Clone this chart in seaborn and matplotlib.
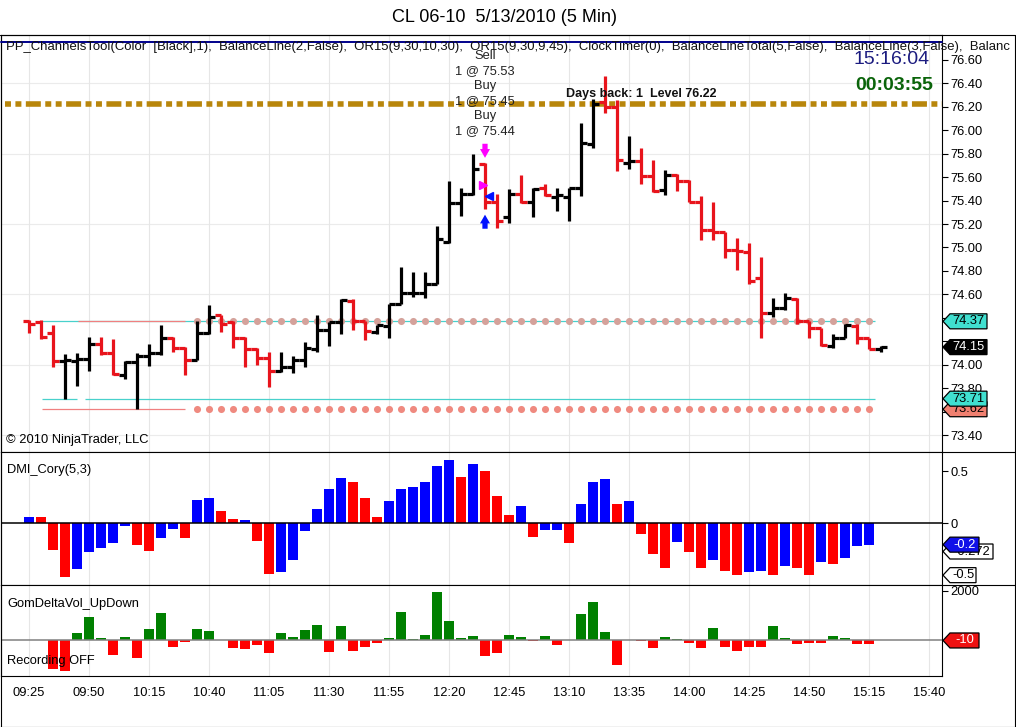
import numpy as np
import pandas as pd
import matplotlib
matplotlib.use("Agg")
import matplotlib.pyplot as plt
import matplotlib.transforms as mtrans
from matplotlib.patches import Polygon
from matplotlib.lines import Line2D
import seaborn as sns

# ---------------- data ----------------
time_labels = ["09:25", "09:50", "10:15", "10:40", "11:05", "11:30", "11:55", "12:20",
               "12:45", "13:10", "13:35", "14:00", "14:25", "14:50", "15:15", "15:40"]

opens = [74.37, 74.36, 74.27, 74.03, 74.03, 74.05, 74.18, 74.10, 73.91, 74.02,
         74.07, 74.10, 74.23, 74.14, 74.04, 74.27, 74.42, 74.36, 74.23, 74.13,
         74.06, 73.95, 73.98, 74.04, 74.13, 74.30, 74.36, 74.54, 74.37, 74.28,
         74.33, 74.52, 74.61, 74.61, 74.69, 75.05, 75.38, 75.46, 75.71, 75.39,
         75.26, 75.46, 75.39, 75.51, 75.43, 75.43, 75.51, 75.88, 76.24, 76.20,
         75.72, 75.74, 75.61, 75.49, 75.62, 75.57, 75.39, 75.15, 75.13, 74.98,
         74.96, 74.74, 74.44, 74.48, 74.56, 74.37, 74.31, 74.16, 74.23, 74.33,
         74.23, 74.13]
highs = [74.38, 74.38, 74.34, 74.09, 74.10, 74.24, 74.24, 74.22, 74.03, 74.10,
         74.18, 74.34, 74.24, 74.15, 74.37, 74.51, 74.42, 74.37, 74.24, 74.14,
         74.11, 74.11, 74.07, 74.19, 74.42, 74.36, 74.56, 74.56, 74.37, 74.34,
         74.52, 74.83, 74.79, 74.79, 75.18, 75.57, 75.51, 75.80, 75.72, 75.46,
         75.50, 75.62, 75.51, 75.54, 75.51, 75.51, 76.06, 76.27, 76.46, 76.26,
         75.95, 75.85, 75.75, 75.66, 75.63, 75.58, 75.44, 75.39, 75.13, 75.08,
         75.04, 74.92, 74.57, 74.61, 74.57, 74.37, 74.31, 74.26, 74.35, 74.35,
         74.23, 74.16]
lows = [74.27, 74.22, 73.98, 73.71, 73.82, 73.95, 74.08, 73.91, 73.88, 73.62,
        73.99, 74.08, 74.11, 73.91, 74.04, 74.26, 74.28, 74.14, 73.98, 74.00,
        73.81, 73.94, 73.93, 73.98, 74.11, 74.16, 74.26, 74.30, 74.21, 74.26,
        74.23, 74.52, 74.58, 74.57, 74.69, 75.04, 75.27, 75.45, 75.33, 75.17,
        75.21, 75.38, 75.26, 75.44, 75.31, 75.23, 75.44, 75.85, 76.15, 75.65,
        75.67, 75.54, 75.47, 75.45, 75.48, 75.39, 75.06, 75.06, 74.91, 74.81,
        74.69, 74.23, 74.41, 74.47, 74.35, 74.23, 74.16, 74.14, 74.23, 74.18,
        74.13, 74.11]
closes = [74.35, 74.24, 74.03, 74.04, 74.05, 74.18, 74.10, 73.92, 74.02, 74.07,
          74.10, 74.23, 74.14, 74.04, 74.27, 74.41, 74.35, 74.23, 74.13, 74.06,
          73.95, 73.98, 74.04, 74.14, 74.30, 74.36, 74.55, 74.37, 74.29, 74.34,
          74.52, 74.61, 74.61, 74.69, 75.07, 75.38, 75.46, 75.67, 75.39, 75.23,
          75.46, 75.39, 75.50, 75.45, 75.45, 75.51, 75.89, 76.22, 76.20, 75.75,
          75.74, 75.61, 75.48, 75.62, 75.57, 75.39, 75.15, 75.13, 74.98, 74.97,
          74.71, 74.44, 74.48, 74.57, 74.37, 74.31, 74.17, 74.23, 74.34, 74.23,
          74.13, 74.15]

dmi_values = [0.065, 0.065, -0.258, -0.516, -0.445, -0.281, -0.242, -0.194, -0.029, -0.213,
              -0.271, -0.145, -0.058, -0.145, 0.229, 0.248, 0.123, 0.039, 0.035, -0.171,
              -0.484, -0.465, -0.355, -0.077, 0.142, 0.335, 0.432, 0.394, 0.239, 0.065,
              0.210, 0.335, 0.345, 0.394, 0.548, 0.606, 0.450, 0.574, 0.506, 0.265,
              0.081, 0.168, -0.129, -0.065, -0.065, -0.187, 0.187, 0.400, 0.429, 0.187,
              0.216, -0.103, -0.297, -0.429, -0.177, -0.274, -0.429, -0.355, -0.458, -0.500,
              -0.468, -0.458, -0.500, -0.410, -0.429, -0.500, -0.371, -0.390, -0.332, -0.216,
              -0.206]
dmi_colors = list("brrrbbbbbrrbbrbbrrbrrbbbbbbrrrbbbbbbrbrrrbrbbrbbbrbrrrbrrbrrbbrbrrbrbbb")

vol_values = [0, 0, -1156, -1265, 299, 952, 95, -585, 136, -707,
              462, 1115, -272, -68, 462, 381, 0, -313, -340, -177,
              -517, 299, 136, 422, 626, -476, 585, -435, -272, -109,
              95, 1156, 54, 218, 1972, 789, 95, 177, -639, -517,
              218, 136, -27, 177, -190, 0, 1074, 1564, 340, -993,
              0, -27, -313, 136, 54, -109, -313, 503, -272, -435,
              -272, -272, 585, 95, -150, -109, -109, 177, 95, -150,
              -150, -10]

or_high = 74.37
or_low_a = 73.71
or_low_b = 73.62
prior_level = 76.22
last_price = 74.15
trade_bar = 38
trade_actions = ["Sell", "Buy", "Buy"]
trade_prices = [75.53, 75.45, 75.44]

header = ("PP_ChannelsTool(Color  [Black],1),  BalanceLine(2,False),  OR15(9,30,10,30),  "
          "OR15(9,30,9,45),  ClockTimer(0),  BalanceLineTotal(5,False),  BalanceLine(3,False),  Balanc")

# ---------------- style ----------------
sns.set_theme(style="white", rc={"axes.edgecolor": "black", "xtick.color": "black",
                                 "ytick.color": "black", "text.color": "black",
                                 "axes.labelcolor": "black"})
plt.rcParams['font.family'] = ['Liberation Sans', 'DejaVu Sans']
plt.rcParams['lines.scale_dashes'] = False

RED = "#e8141c"
FS = 9.3
W, H = 1016, 727
fig = plt.figure(figsize=(W / 100, H / 100), dpi=100, facecolor="white")


def fx(px):
    return px / W


def fy(py):
    return 1 - py / H


LEFT, RIGHT = 1, 942
X0, XSTEP = 29, 12


def add_panel(top, bottom):
    return fig.add_axes([fx(LEFT), fy(bottom), fx(RIGHT) - fx(LEFT), fy(top) - fy(bottom)])


ax_p = add_panel(35, 452)
ax_d = add_panel(452, 584.5)
ax_v = add_panel(584.5, 675.5)

# ---------------- price panel ----------------
df = pd.DataFrame({"bar": range(len(opens)), "open": opens, "high": highs,
                   "low": lows, "close": closes})
df["color"] = np.where(df["close"] < df["open"], RED, "black")

for lvl in [73.4, 74.0, 74.6, 75.2, 75.8, 76.4]:
    ax_p.axhline(lvl, color="#ebebeb", lw=0.8, zorder=0)

# opening range lines
ax_p.hlines(or_high, 1.08, 70.5, color="#48d1cc", lw=0.9, zorder=1)
ax_p.hlines(or_high, 4.1, 13.0, color="#f08080", lw=0.9, zorder=1)
ax_p.hlines(or_low_a, 1.08, 4.0, color="#48d1cc", lw=0.9, zorder=1)
ax_p.hlines(or_low_a, 4.7, 70.5, color="#48d1cc", lw=0.9, zorder=1)
ax_p.hlines(or_low_b, 1.08, 13.0, color="#f08080", lw=0.9, zorder=1)
dots = pd.DataFrame({"bar": list(range(14, 71))})
sns.scatterplot(x=dots["bar"], y=[or_high] * len(dots), color="#d4a29b", s=26,
                linewidth=0, ax=ax_p, zorder=2)
sns.scatterplot(x=dots["bar"], y=[or_low_b] * len(dots), color="#ef8a80", s=26,
                linewidth=0, ax=ax_p, zorder=2)

# prior-day level line
ax_p.axhline(prior_level, xmin=0.004, color="#b8860b", lw=4.0,
             linestyle=(0, (4.3, 3.2, 4.3, 3.2, 10.8, 3.2)), dash_capstyle="butt", zorder=2)

# OHLC bars
lw_bar = 2.3
ax_p.vlines(df["bar"], df["low"], df["high"], colors=df["color"], lw=lw_bar, zorder=3)
ax_p.hlines(df["open"], df["bar"] - 0.47, df["bar"], colors=df["color"], lw=lw_bar, zorder=3)
ax_p.hlines(df["close"], df["bar"], df["bar"] + 0.47, colors=df["color"], lw=lw_bar, zorder=3)

# trade markers
arrow_kw = dict(arrowstyle="simple,head_length=0.7,head_width=0.8,tail_width=0.42",
                shrinkA=0, shrinkB=0, lw=0, mutation_scale=9)
ax_p.annotate("", xy=(trade_bar, 75.765), xytext=(trade_bar, 75.885),
              arrowprops=dict(color="#ff00ff", **arrow_kw), zorder=5)
ax_p.annotate("", xy=(trade_bar, 75.28), xytext=(trade_bar, 75.16),
              arrowprops=dict(color="#0010ff", **arrow_kw), zorder=5)
ax_p.plot([trade_bar - 0.2], [trade_prices[0]], marker=">", color="#ff00ff", ms=6, zorder=5, lw=0)
ax_p.plot([trade_bar + 0.3], [trade_prices[2]], marker="<", color="#0010ff", ms=6, zorder=5, lw=0)

ax_p.set_ylim(73.255, 76.813)
price_ticks = [73.4 + 0.2 * i for i in range(17)]
hidden = {"73.60", "74.20", "74.40"}   # covered by the right-edge value tags
ax_p.set_yticks(price_ticks)
ax_p.set_yticklabels([("" if f"{t:.2f}" in hidden else f"{t:.2f}") for t in price_ticks])

# ---------------- DMI panel ----------------
dmi_df = pd.DataFrame({"bar": range(len(dmi_values)), "value": dmi_values, "col": dmi_colors})
sns.barplot(data=dmi_df, x="bar", y="value", hue="col",
            palette={"b": "#0000ff", "r": "#ff0000"}, native_scale=True, dodge=False,
            width=0.82, errorbar=None, legend=False, saturation=1, linewidth=0, ax=ax_d)
ax_d.axhline(0, color="black", lw=1.1, zorder=4)
ax_d.set_ylim(-0.59, 0.687)
ax_d.set_yticks([0, 0.5])
ax_d.set_yticklabels(["0", "0.5"])

# ---------------- volume panel ----------------
vol_df = pd.DataFrame({"bar": range(len(vol_values)), "value": vol_values})
vol_df["col"] = np.where(vol_df["value"] >= 0, "g", "r")
sns.barplot(data=vol_df, x="bar", y="value", hue="col",
            palette={"g": "#008000", "r": "#ff0000"}, native_scale=True, dodge=False,
            width=0.78, errorbar=None, legend=False, saturation=1, linewidth=0, ax=ax_v)
ax_v.axhline(0, color="#808080", lw=1.1, zorder=4)
ax_v.set_ylim(-1429, 2257)
ax_v.set_yticks([2000])
ax_v.set_yticklabels(["2000"])

# ---------------- common axis styling ----------------
xlim = ((LEFT - X0) / XSTEP, (RIGHT - X0) / XSTEP)
tick_pos = [5 * i for i in range(len(time_labels))]
for ax in (ax_p, ax_d, ax_v):
    ax.set_xlim(*xlim)
    ax.set_xticks(tick_pos)
    ax.set_xlabel("")
    ax.set_ylabel("")
    ax.grid(axis="x", color="#e6e6e6", lw=0.8)
    ax.grid(axis="y", visible=False)
    ax.set_axisbelow(True)
    for s in ax.spines.values():
        s.set_color("black")
        s.set_linewidth(0.8)
    ax.yaxis.tick_right()
    ax.tick_params(axis="y", direction="out", length=4, width=0.8, pad=2,
                   labelsize=FS, colors="black", left=False, right=True)
    ax.tick_params(axis="x", length=0, labelbottom=False)
ax_v.tick_params(axis="x", labelbottom=True, pad=8, labelsize=FS)
ax_v.set_xticklabels(time_labels)

# ---------------- frame lines ----------------
def fline(x0, y0, x1, y1, **kw):
    kw.setdefault("color", "black")
    kw.setdefault("lw", 0.8)
    fig.add_artist(Line2D([fx(x0), fx(x1)], [fy(y0), fy(y1)], transform=fig.transFigure, **kw))


fline(0, 35, 1015, 35)
fline(RIGHT, 452, 1015, 452)
fline(RIGHT, 584.5, 1015, 584.5)
fline(1014.5, 35, 1014.5, 726.5)
fline(0.5, 35, 0.5, 726.5)
fline(0, 726.5, 1015, 726.5)
fline(LEFT, 41.5, RIGHT, 41.5, color="#00008b", lw=1.4)

# ---------------- texts ----------------
fig.text(fx(505), fy(17), "CL 06-10  5/13/2010 (5 Min)", ha="center", va="center", fontsize=13)
fig.text(fx(6), fy(47), header, ha="left", va="center", fontsize=9.42, color="#111111")
fig.text(fx(892), fy(60), "15:16:04", ha="center", va="center", fontsize=14, color="#1c1c80")
fig.text(fx(894), fy(85.5), "00:03:55", ha="center", va="center", fontsize=14,
         fontweight="bold", color="#0a640a")
fig.text(fx(6), fy(440), "\u00a9 2010 NinjaTrader, LLC", ha="left", va="center", fontsize=FS)
fig.text(fx(7), fy(470), "DMI_Cory(5,3)", ha="left", va="center", fontsize=FS)
fig.text(fx(7), fy(604), "GomDeltaVol_UpDown", ha="left", va="center", fontsize=FS)
fig.text(fx(7), fy(661), "Recording OFF", ha="left", va="center", fontsize=FS)

blend = mtrans.blended_transform_factory(ax_p.transData, fig.transFigure)
fig.text((566 - X0) / XSTEP, fy(94), f"Days back: 1  Level {prior_level:.2f}", transform=blend,
         ha="left", va="center", fontsize=9, fontweight="bold", color="#111111", zorder=6)
trade_lines = []
for act, pr in zip(trade_actions, trade_prices):
    trade_lines += [act, f"1 @ {pr:.2f}"]
for i, s in enumerate(trade_lines):
    fig.text(trade_bar, fy(56 + 15.1 * i), s, transform=blend, ha="center", va="center",
             fontsize=FS, color="#222222", zorder=6)

# ---------------- right axis tags ----------------
ident = mtrans.IdentityTransform()


def tag(ax, yval, label, fc, tc, width=44, height=15, ec="black", z=10):
    xd, yd = ax.transData.transform((ax.get_xlim()[1], yval))
    xd += 1
    pts = [(xd, yd), (xd + 7, yd + height / 2), (xd + width, yd + height / 2),
           (xd + width, yd - height / 2), (xd + 7, yd - height / 2)]
    fig.add_artist(Polygon(pts, closed=True, transform=ident, facecolor=fc, edgecolor=ec,
                           lw=0.9, zorder=z))
    fig.text(xd + 7 + (width - 7) / 2, yd, label, transform=ident, ha="center", va="center",
             fontsize=FS, color=tc, zorder=z + 0.5)


tag(ax_p, or_high, f"{or_high:.2f}", "#40e0d0", "black")
tag(ax_p, last_price, f"{last_price:.2f}", "black", "white")
tag(ax_p, or_low_b, f"{or_low_b:.2f}", "#f08070", "black", z=10)
tag(ax_p, or_low_a, f"{or_low_a:.2f}", "#40e0d0", "black", z=11)
tag(ax_d, -0.5, "-0.5", "white", "black", width=33, z=10)
tag(ax_d, -0.272, "-0.272", "white", "black", width=50, z=10)
tag(ax_d, dmi_values[-1], f"{dmi_values[-1]:.1f}", "#1010e8", "white", width=36, z=11)
tag(ax_v, vol_values[-1], f"{vol_values[-1]}", "#ee1111", "white", width=36, z=10)

fig.savefig("out.png", dpi=100, facecolor="white")
